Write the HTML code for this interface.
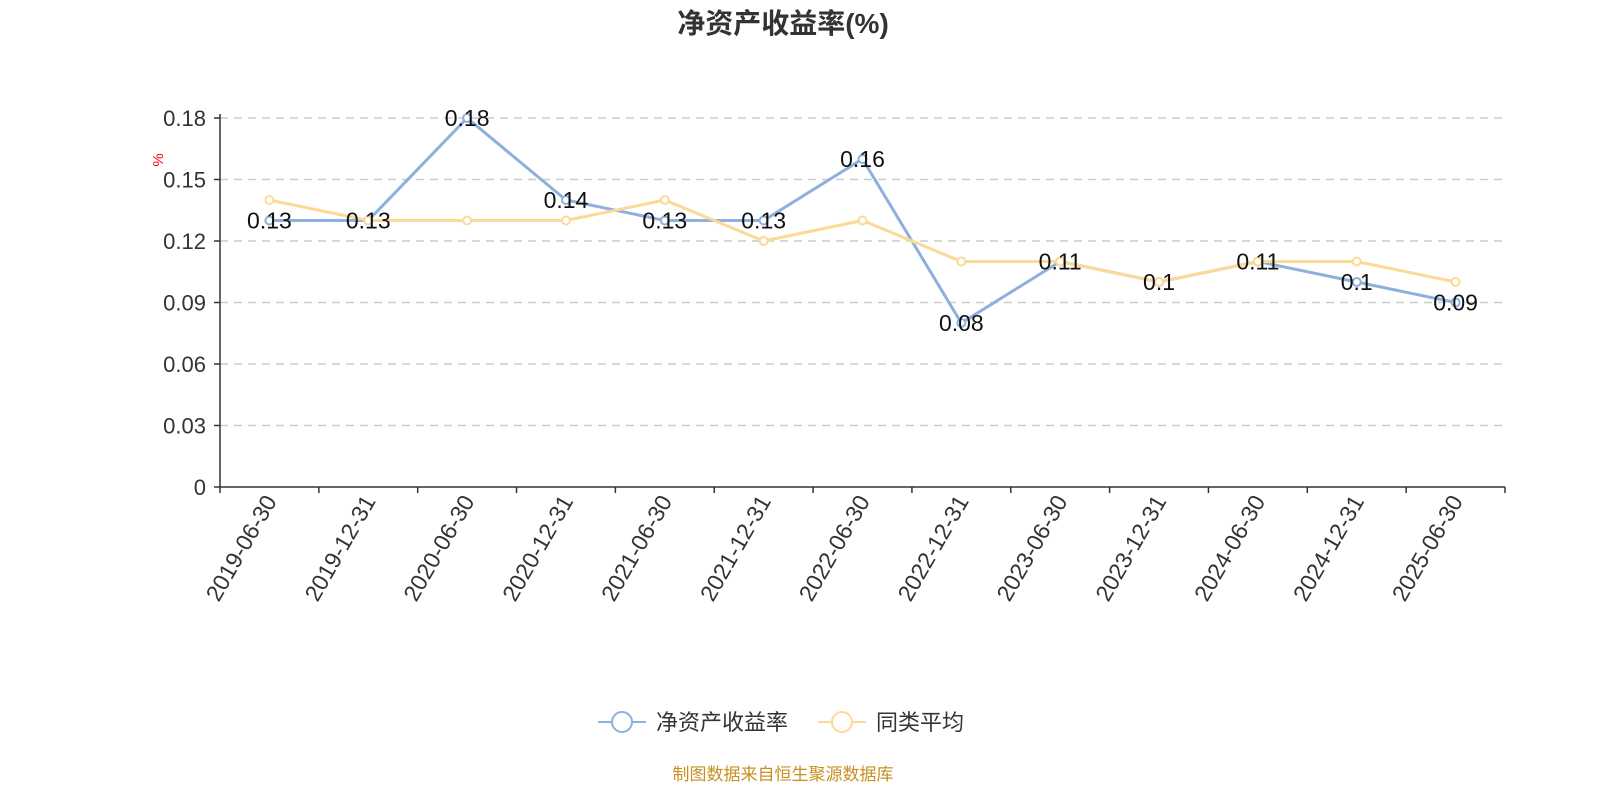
<!DOCTYPE html>
<html><head><meta charset="utf-8"><style>
body{margin:0;background:#fff;width:1600px;height:800px;overflow:hidden}
svg{font-family:"Liberation Sans","Noto Sans CJK SC",sans-serif}
</style></head><body>
<svg id="c" width="1600" height="800">
<text x="783" y="33" text-anchor="middle" font-size="28" font-weight="bold" fill="#333">净资产收益率(%)</text>
<text x="163" y="160" font-size="15" fill="red" transform="rotate(-90 163 160)" text-anchor="middle">%</text>
<g id="grid"></g><g id="xax"></g><g id="lines"></g><g id="labels"></g>
<g>
<g><line x1="598" y1="722" x2="646" y2="722" stroke="#8eb0dc" stroke-width="2"/><circle cx="622" cy="722" r="10" fill="#fff" stroke="#8eb0dc" stroke-width="2"/><text x="656" y="730" font-size="22" fill="#333">净资产收益率</text></g>
<g><line x1="818" y1="722" x2="866" y2="722" stroke="#fcd997" stroke-width="2"/><circle cx="842" cy="722" r="10" fill="#fff" stroke="#fcd997" stroke-width="2"/><text x="876" y="730" font-size="22" fill="#333">同类平均</text></g>
</g>
<text x="783" y="780" text-anchor="middle" font-size="17" fill="#c8901f">制图数据来自恒生聚源数据库</text>
</svg>
<script>
const categories=["2019-06-30","2019-12-31","2020-06-30","2020-12-31","2021-06-30","2021-12-31","2022-06-30","2022-12-31","2023-06-30","2023-12-31","2024-06-30","2024-12-31","2025-06-30"];
const roeValues=[0.13,0.13,0.18,0.14,0.13,0.13,0.16,0.08,0.11,0.10,0.11,0.10,0.09];
const avgValues=[0.14,0.13,0.13,0.13,0.14,0.12,0.13,0.11,0.11,0.10,0.11,0.11,0.10];
const yTicks=[0,0.03,0.06,0.09,0.12,0.15,0.18];
const yTickLabels=["0","0.03","0.06","0.09","0.12","0.15","0.18"];
const NS="http://www.w3.org/2000/svg";
const X0=220,X1=1505,Y0=487,Y1=118,YMAX=0.18;
const bw=(X1-X0)/categories.length;
const x=i=>X0+bw*(i+0.5);
const y=v=>Y0-(v/YMAX)*(Y0-Y1);
function mk(t,a,p){const e=document.createElementNS(NS,t);for(const k in a)e.setAttribute(k,a[k]);p.appendChild(e);return e;}
const grid=document.getElementById('grid');
yTicks.forEach((t,i)=>{
 if(t>0){const g=mk('line',{x1:X0,x2:X1,y1:y(t),y2:y(t),stroke:'#ccc','stroke-dasharray':'8,6','stroke-width':1.5},grid);
 
 }
 mk('line',{x1:X0-6,x2:X0,y1:y(t),y2:y(t),stroke:'#333','stroke-width':1.5},grid);
 const l=mk('text',{x:X0-14,y:y(t)+8,'text-anchor':'end','font-size':22,fill:'#333'},grid);l.textContent=yTickLabels[i];
 
 
});
mk('line',{x1:X0,x2:X0,y1:Y1-4,y2:Y0,stroke:'#333','stroke-width':1.5},grid);
const xax=document.getElementById('xax');
mk('line',{x1:X0,x2:X1,y1:Y0,y2:Y0,stroke:'#333','stroke-width':1.5},xax);
for(let i=0;i<=categories.length;i++)mk('line',{x1:X0+bw*i,x2:X0+bw*i,y1:Y0,y2:Y0+6,stroke:'#333','stroke-width':1.5},xax);
categories.forEach((c,i)=>{const t=mk('text',{x:x(i)+8,y:Y0+14,'text-anchor':'end','font-size':23,fill:'#333',transform:`rotate(-60 ${x(i)+8} ${Y0+14})`},xax);t.textContent=c;
 
 });
const lines=document.getElementById('lines');
function series(vals,col,name){
 const p=mk('polyline',{points:vals.map((v,i)=>x(i)+','+y(v)).join(' '),fill:'none',stroke:col,'stroke-width':3},lines);
 
 
 vals.forEach((v,i)=>{const c=mk('circle',{cx:x(i),cy:y(v),r:4,fill:'#fff',stroke:col,'stroke-width':2},lines);
 
 });
}
series(roeValues,'#8eb0dc','roe');
series(avgValues,'#fcd997','average');
const labels=document.getElementById('labels');
roeValues.forEach((v,i)=>{const t=mk('text',{x:x(i),y:y(v)+8,'text-anchor':'middle','font-size':23,fill:'#111'},labels);t.textContent=String(v);
 
 });
</script>
</body></html>
